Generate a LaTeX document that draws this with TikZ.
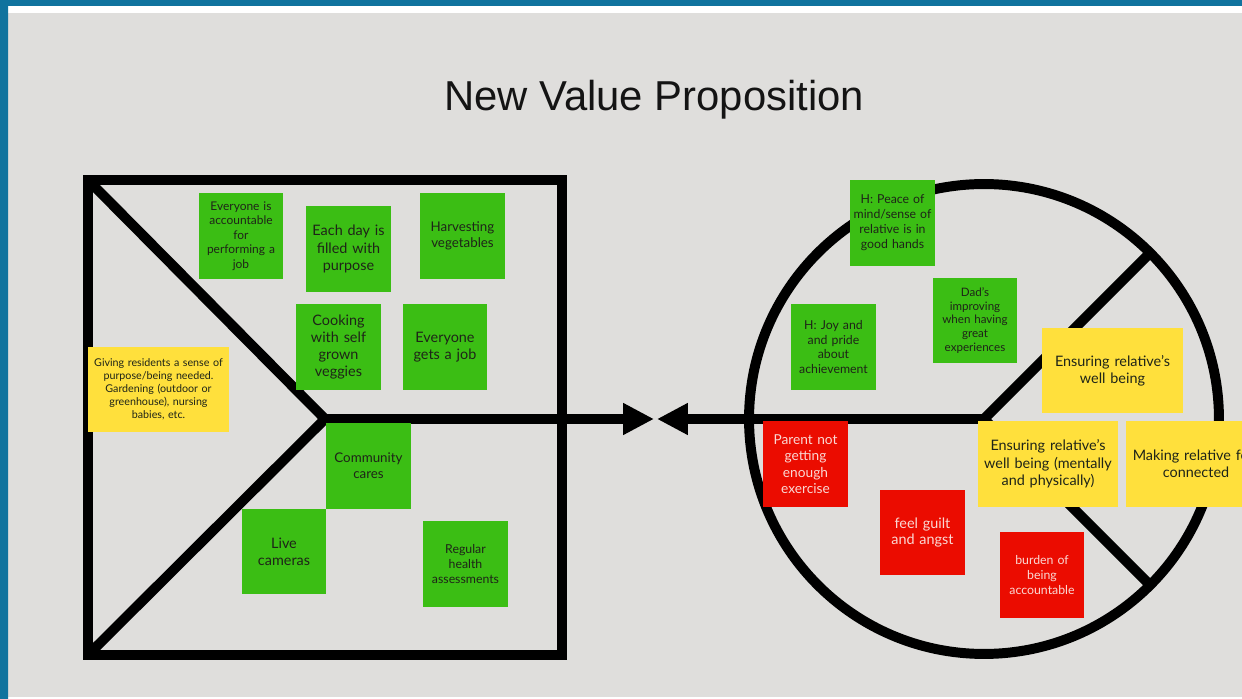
\documentclass[tikz,border=0pt]{standalone}
\usepackage{fontspec}
\setmainfont{Lato}
\newfontfamily\headfont{Liberation Sans}
\usetikzlibrary{arrows.meta}

\definecolor{boardgray}{HTML}{DFDEDC}
\definecolor{boardblue}{HTML}{10739E}
\definecolor{notegreen}{HTML}{3BBE14}
\definecolor{noteyellow}{HTML}{FFE03C}
\definecolor{notered}{HTML}{EB0C00}
\definecolor{inkdark}{HTML}{1E2418}
\definecolor{inklight}{HTML}{FAD8D4}

\newcommand\notefont[2]{\fontsize{#1}{#2}\selectfont}

\tikzset{
  heavy/.style={line width=5.67pt, line join=miter, draw=black},
  heavy arrow/.style={heavy, -{Triangle[length=0.62cm, width=0.6cm]}},
  note/.style={inner sep=0pt, minimum width=1.7cm, minimum height=1.72cm,
    text width=1.66cm, align=center, text=inkdark},
  green note/.style={note, fill=notegreen},
  yellow note/.style={note, fill=noteyellow, minimum width=2.82cm, text width=2.78cm},
  red note/.style={note, fill=notered, text=inklight},
}

\begin{document}
\begin{tikzpicture}[x=0.02cm, y=-0.02cm]
\clip (0,0) rectangle (1242,699);
\fill[boardgray] (0,0) rectangle (1242,699);
\fill[white] (0,6) rectangle (1242,13) (0,697) rectangle (1242,699);
\fill[boardblue] (0,0) rectangle (1242,6) (0,0) rectangle (8,699);

\node[font=\headfont\fontsize{23.8}{28}\selectfont, text=black!92] (title) at (654,100) {New Value Proposition};

% square: corners, apex of the chevron
\coordinate (nw) at (88,180);
\coordinate (se) at (562,655);
\coordinate (sw) at (88,655);
\coordinate (apex) at (325,419);
\draw[heavy] (nw) rectangle (se);
\draw[heavy] (nw) -- (apex) -- (sw);

% circle with its three spokes
\coordinate (hub) at (984,419);
\coordinate (upper) at (1150,253);
\coordinate (lower) at (1150,585);
\draw[heavy] (hub) circle [radius=4.7cm];
\draw[heavy] (upper) -- (hub) -- (lower);

% the two arrows meeting in the middle
\coordinate (tip l) at (654,419);
\coordinate (tip r) at (657,419);
\draw[heavy arrow] (apex) -- (tip l);
\draw[heavy arrow] (hub) -- (tip r);

% notes in the square
\node[green note, font=\notefont{6.8}{8.2}] (accountable) at (241,236) {Everyone is\\accountable\\for\\performing a\\job};
\node[green note, font=\notefont{8.2}{9.9}] (purpose) at (348.5,249) {Each day is\\filled with\\purpose};
\node[green note, font=\notefont{7.6}{9.1}] (harvest) at (462.5,236) {Harvesting\\vegetables};
\node[green note, font=\notefont{8.2}{9.8}] (cooking) at (338.5,347) {Cooking\\with self\\grown\\veggies};
\node[green note, font=\notefont{8.2}{9.6}] (getsjob) at (445,347) {Everyone\\gets a job};
\node[yellow note, font=\notefont{6.1}{7.4}] (giving) at (158.5,389.5) {Giving residents a sense of\\purpose/being needed.\\Gardening (outdoor or\\greenhouse), nursing\\babies, etc.};
\node[green note, font=\notefont{7.6}{9.1}] (community) at (368.5,466) {Community\\cares};
\node[green note, font=\notefont{8.2}{9.6}] (cameras) at (284,551.5) {Live\\cameras};
\node[green note, font=\notefont{7}{8.5}] (health) at (465.5,564) {Regular\\health\\assessments};

% notes in the circle
\node[green note, font=\notefont{7}{8.5}] (peace) at (892.5,223) {H: Peace of\\mind/sense of\\relative is in\\good hands};
\node[green note, font=\notefont{6.6}{7.9}] (dad) at (975,320.5) {Dad's\\improving\\when having\\great\\experiences};
\node[green note, font=\notefont{7}{8.3}] (joy) at (833.5,347) {H: Joy and\\and pride\\about\\achievement};
\node[yellow note, font=\notefont{8.2}{9.6}] (wellbeing) at (1112.5,370.5) {Ensuring relative's\\well being};
\node[red note, font=\notefont{7.8}{9.4}] (exercise) at (805.5,464) {Parent not\\getting\\enough\\exercise};
\node[yellow note, font=\notefont{8.2}{9.9}] (mentally) at (1048,464) {Ensuring relative's\\well being (mentally\\and physically)};
\node[yellow note, font=\notefont{8.2}{9.6}] (connected) at (1196,464) {Making relative feel\\connected};
\node[red note, font=\notefont{8.2}{9.6}] (guilt) at (922.5,532.5) {feel guilt\\and angst};
\node[red note, font=\notefont{7}{8.5}] (burden) at (1042,575) {burden of\\being\\accountable};
\end{tikzpicture}
\end{document}
